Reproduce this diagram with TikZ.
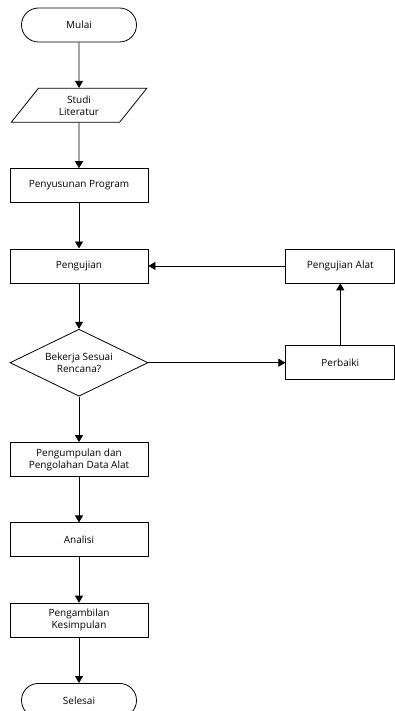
\documentclass[tikz,border=0pt]{standalone}
\usepackage{fontspec}
\setsansfont{Open Sans}
\usepackage{tikz}
\usetikzlibrary{positioning, arrows.meta, shapes.geometric}

\begin{document}
\begin{tikzpicture}[
  x=1pt, y=1pt,
  font=\sffamily\fontsize{10}{12}\selectfont,
  node distance=45.5pt,
  box/.style={draw, minimum width=138pt, minimum height=34pt, inner sep=1pt, align=center},
  sidebox/.style={box, minimum width=109pt},
  term/.style={draw, rounded corners=17pt, minimum width=115pt, minimum height=34pt, inner sep=1pt},
  io/.style={draw, trapezium, trapezium left angle=57, trapezium right angle=123,
    trapezium stretches=true, minimum width=136pt, minimum height=34pt, inner sep=1pt, align=center},
  decision/.style={draw, diamond, aspect=2.06, minimum width=138pt, minimum height=67pt,
    inner sep=0pt, align=center},
  arrow/.style={-{Triangle[width=8pt,length=7pt]}, line width=0.8pt},
  every node/.append style={line width=0.8pt},
]
  \useasboundingbox (0,0) rectangle (395,-711);

  \node[term] (mulai) at (79,-25) {Mulai};
  \node[io, below=of mulai]    (studi)   {Studi\\Literatur};
  \node[box, below=of studi]   (susun)   {Penyusunan Program};
  \node[box, below=of susun]   (uji)     {Pengujian};
  \node[decision, below=of uji] (sesuai) {Bekerja Sesuai\\Rencana?};
  \node[box, below=of sesuai]  (kumpul)  {Pengumpulan dan\\Pengolahan Data Alat};
  \node[box, below=of kumpul]  (analisi) {Analisi};
  \node[box, below=of analisi] (ambil)   {Pengambilan\\Kesimpulan};
  \node[term, below=of ambil]  (selesai) {Selesai};

  \node[sidebox, right=137pt of uji]    (ujialat)  {Pengujian Alat};
  \node[sidebox, right=137pt of sesuai] (perbaiki) {Perbaiki};

  \draw[arrow] (mulai)   -- (studi);
  \draw[arrow] (studi)   -- (susun);
  \draw[arrow] (susun)   -- (uji);
  \draw[arrow] (uji)     -- (sesuai);
  \draw[arrow] (sesuai)  -- (kumpul);
  \draw[arrow] (kumpul)  -- (analisi);
  \draw[arrow] (analisi) -- (ambil);
  \draw[arrow] (ambil)   -- (selesai);

  \draw[arrow] (sesuai)   -- (perbaiki);
  \draw[arrow] (perbaiki) -- (ujialat);
  \draw[arrow] (ujialat)  -- (uji);
\end{tikzpicture}
\end{document}
